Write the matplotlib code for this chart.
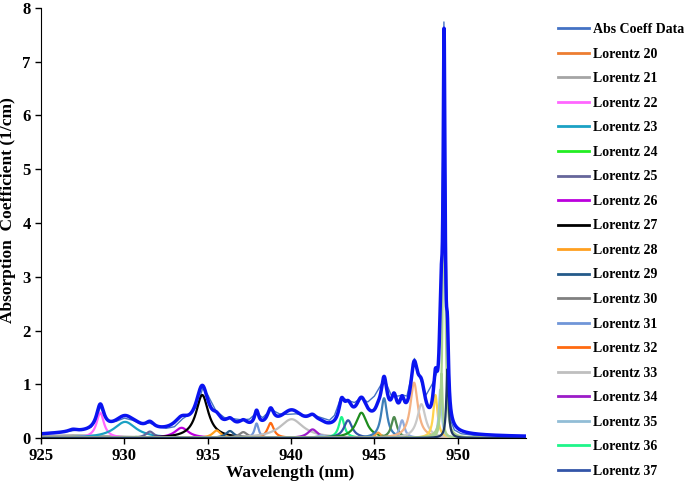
"""Absorption coefficient spectrum with its Lorentzian peak decomposition."""

import matplotlib

matplotlib.use("Agg")
import matplotlib.pyplot as plt
import numpy as np

plt.rcParams["font.family"] = ["Liberation Serif", "DejaVu Serif"]
plt.rcParams["font.weight"] = "bold"

DATA_WL = [925.0, 925.5, 926.0, 926.5, 927.0, 927.5, 928.0, 928.3, 928.55, 928.8,
           929.1, 929.5, 930.0, 930.5, 931.0, 931.5, 932.0, 932.5, 933.0, 933.5,
           934.0, 934.4, 934.7, 935.0, 935.5, 936.0, 936.5, 937.0, 937.5, 937.9,
           938.3, 938.8, 939.3, 939.8, 940.3, 940.8, 941.3, 941.8, 942.3, 942.6,
           943.0, 943.4, 943.8, 944.2, 944.6, 945.0, 945.6, 946.0, 946.4, 946.7,
           946.95, 947.2, 947.4, 947.7, 948.1, 948.5, 948.75, 948.95, 949.05, 949.17,
           949.3, 949.45, 949.6, 949.8, 950.2, 951.0, 952.0, 953.0, 954.0]
DATA_ABS = [0.09, 0.10, 0.11, 0.12, 0.14, 0.155, 0.20, 0.33, 0.58, 0.42,
            0.30, 0.31, 0.37, 0.33, 0.26, 0.28, 0.22, 0.18, 0.21, 0.36,
            0.46, 0.62, 0.93, 0.80, 0.50, 0.38, 0.36, 0.34, 0.35, 0.46,
            0.38, 0.53, 0.45, 0.44, 0.45, 0.42, 0.43, 0.38, 0.33, 0.42,
            0.76, 0.70, 0.66, 0.74, 0.67, 0.78, 1.10, 0.80, 0.78, 0.80,
            0.78, 1.12, 1.48, 1.15, 0.80, 1.02, 1.22, 1.80, 3.50, 7.74,
            3.50, 1.20, 0.30, 0.15, 0.08, 0.05, 0.04, 0.03, 0.02]

# fitted Lorentz components: centre (nm), height (1/cm), half width (nm)
PEAK_NUM = list(range(20, 50))
PEAK_CENTER = [926.9, 927.0, 928.55, 930.04, 930.7, 931.53, 933.43, 934.67, 935.53, 936.33,
               937.13, 937.93, 938.77, 940.03, 941.29, 941.8, 943.03, 943.42, 944.22, 945.22,
               945.58, 946.18, 946.66, 947.38, 947.82, 948.66, 948.95, 949.02, 949.18, 949.38]
PEAK_HEIGHT = [0.04, 0.05, 0.47, 0.30, 0.02, 0.12, 0.19, 0.80, 0.14, 0.13,
               0.11, 0.27, 0.28, 0.35, 0.16, 0.05, 0.39, 0.33, 0.47, 0.10,
               0.74, 0.39, 0.33, 1.03, 0.63, 0.80, 0.90, 1.20, 6.90, 1.28]
PEAK_HWHM = [0.3, 3.0, 0.27, 0.8, 0.3, 0.3, 0.5, 0.45, 0.3, 0.3,
             0.3, 0.15, 0.23, 0.85, 0.35, 0.3, 0.2, 0.3, 0.4, 0.2,
             0.22, 0.2, 0.18, 0.27, 0.3, 0.15, 0.1, 0.08, 0.07, 0.08]
PEAK_COLOR = ["#ED7D31", "#A5A5A5", "#FF66FF", "#1BA1C4", "#22EE22", "#66669A",
              "#BB00DD", "#000000", "#FFA020", "#245A8A", "#808080", "#7096D8",
              "#FF6A10", "#BFBFBF", "#9C1CC8", "#92BDD6", "#1EF58A", "#3355A8",
              "#1E8C1E", "#F4A040", "#3C7EB8", "#4E8A4E", "#8FAADC", "#F4B183",
              "#C9C9C9", "#FFD34D", "#9DC3E6", "#A9D18E", "#A9D18E", "#1F3864"]
N_LEGEND = 18  # legend only shows Lorentz 20..37

# broad background terms in the fit (not drawn separately)
BG_CENTER = [938.0, 945.5]
BG_HEIGHT = [0.12, 0.18]
BG_HWHM = [7.0, 1.5]


def lorentz(x, x0, h, g):
    return h * g**2 / ((x - x0) ** 2 + g**2)


wl = np.linspace(925, 954, 3000)
comps = [lorentz(wl, c, h, g) for c, h, g in zip(PEAK_CENTER, PEAK_HEIGHT, PEAK_HWHM)]
fit = np.sum(comps, axis=0)
for c, h, g in zip(BG_CENTER, BG_HEIGHT, BG_HWHM):
    fit = fit + lorentz(wl, c, h, g)

fig = plt.figure(figsize=(6.85, 4.87), dpi=100)
ax = fig.add_axes([0.06, 0.1006, 0.708, 0.883])

handles = []
(h_data,) = ax.plot(DATA_WL, DATA_ABS, color="#4472C4", lw=1.0, label="Abs Coeff Data")
handles.append(h_data)
for i, (y, col) in enumerate(zip(comps, PEAK_COLOR)):
    (h,) = ax.plot(wl, y, color=col, lw=1.6, label=f"Lorentz {PEAK_NUM[i]}")
    if i < N_LEGEND:
        handles.append(h)
ax.plot(wl, fit, color="#0A14F0", lw=2.5)

ax.set_xlim(925, 954.1)
ax.set_ylim(0, 8)
ax.set_xticks([925, 930, 935, 940, 945, 950])
ax.set_yticks(range(0, 9))
ax.tick_params(labelsize=12, length=4, width=1, direction="out")
ax.tick_params(axis="y", pad=3.5)
for lab in ax.get_xticklabels() + ax.get_yticklabels():
    lab.set_fontweight("bold")
ax.spines["top"].set_visible(False)
ax.spines["right"].set_visible(False)
ax.set_xlabel("Wavelength (nm)", fontsize=12.5, fontweight="bold")
ax.xaxis.set_label_coords(0.513, -0.063)
ax.set_ylabel("Absorption  Coefficient (1/cm)", fontsize=12.5, fontweight="bold")
ax.yaxis.set_label_coords(-0.052, 0.53)

leg = fig.legend(handles=handles, loc="upper left", bbox_to_anchor=(0.797, 0.978),
                 frameon=False, prop={"size": 10, "weight": "bold"},
                 labelspacing=0.83, handlelength=2.2, handletextpad=0.3)
for line in leg.get_lines():
    line.set_linewidth(2.0)

fig.savefig("out.png", dpi=100)
